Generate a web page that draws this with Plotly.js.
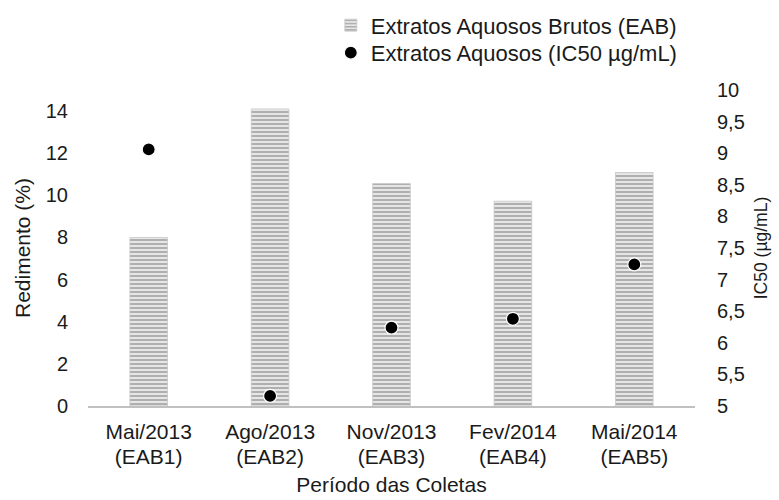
<!DOCTYPE html>
<html>
<head>
<meta charset="utf-8">
<script src="https://cdn.plot.ly/plotly-3.0.1.min.js"></script>
<style>html,body{margin:0;padding:0;background:#fff;}#chart{width:779px;height:500px;}</style>
</head>
<body>
<div id="chart"></div>
<script>
var codes = ["(EAB1)", "(EAB2)", "(EAB3)", "(EAB4)", "(EAB5)"];
var periods = ["Mai/2013", "Ago/2013", "Nov/2013", "Fev/2014", "Mai/2014"];
var rendimento = [8.0, 14.1, 10.56, 9.72, 11.08];
var ic50 = [9.06, 5.16, 6.24, 6.38, 7.24];
var leftTicks = [0, 2, 4, 6, 8, 10, 12, 14];
var rightTicks = [5, 5.5, 6, 6.5, 7, 7.5, 8, 8.5, 9, 9.5, 10];
var rightTickText = ["5", "5,5", "6", "6,5", "7", "7,5", "8", "8,5", "9", "9,5", "10"];

var fontFam = "Liberation Sans, Arial, sans-serif";
var txtColor = "#1a1a1a";

var data = [
  {
    type: "bar",
    name: "Extratos Aquosos Brutos (EAB)",
    x: codes,
    y: rendimento,
    xaxis: "x",
    yaxis: "y",
    legend: "legend",
    width: 0.31,
    marker: {
      color: "#e4e4e4",
      line: {color: "#c8c8c8", width: 0.8},
      pattern: {shape: "-", fgcolor: "#a9a9a9", bgcolor: "#e6e6e6", size: 4, solidity: 0.45}
    },
    hoverinfo: "none"
  },
  {
    type: "scatter",
    mode: "markers",
    name: "Extratos Aquosos (IC50 µg/mL)",
    x: codes,
    y: ic50,
    xaxis: "x2",
    yaxis: "y2",
    legend: "legend2",
    marker: {color: "#000000", size: 13, line: {color: "#ffffff", width: 1.2}},
    hoverinfo: "none"
  }
];

var legendCommon = {
  xanchor: "left", yanchor: "top",
  font: {family: fontFam, size: 22, color: txtColor},
  bgcolor: "rgba(0,0,0,0)",
  itemwidth: 30
};

var layout = {
  width: 779,
  height: 500,
  margin: {l: 87.5, r: 84, t: 89.5, b: 93.5, autoexpand: false},
  paper_bgcolor: "#ffffff",
  plot_bgcolor: "#ffffff",
  font: {family: fontFam, size: 21, color: txtColor},
  showlegend: true,
  legend: Object.assign({x: 0.40, y: 1.271}, legendCommon),
  legend2: Object.assign({x: 0.40, y: 1.184}, legendCommon),
  xaxis: {
    type: "category",
    categoryorder: "array",
    categoryarray: codes,
    tickvals: codes,
    ticktext: periods,
    showgrid: false,
    zeroline: false,
    showline: true,
    linecolor: "#c0c0c0",
    linewidth: 1.5,
    ticks: "",
    tickfont: {family: fontFam, size: 21, color: txtColor},
    ticklabelstandoff: 6
  },
  xaxis2: {
    type: "category",
    overlaying: "x",
    matches: "x",
    anchor: "y",
    side: "bottom",
    categoryorder: "array",
    categoryarray: codes,
    tickvals: codes,
    ticktext: codes,
    showgrid: false,
    zeroline: false,
    showline: false,
    ticks: "",
    tickfont: {family: fontFam, size: 21, color: txtColor},
    ticklabelstandoff: 36,
    title: {text: "Período das Coletas", font: {family: fontFam, size: 21, color: txtColor}, standoff: 10}
  },
  yaxis: {
    range: [0, 15],
    tickvals: leftTicks,
    ticktext: leftTicks.map(String),
    showgrid: false,
    zeroline: false,
    showline: false,
    ticks: "",
    tickfont: {family: fontFam, size: 20, color: txtColor},
    ticklabelstandoff: 19,
    title: {text: "Redimento (%)", font: {family: fontFam, size: 21, color: txtColor}, standoff: 9}
  },
  yaxis2: {
    range: [5, 10],
    overlaying: "y",
    anchor: "x2",
    side: "right",
    tickvals: rightTicks,
    ticktext: rightTickText,
    showgrid: false,
    zeroline: false,
    showline: false,
    ticks: "",
    tickfont: {family: fontFam, size: 20, color: txtColor},
    ticklabelstandoff: 21,
    title: {text: "IC50 (µg/mL)", font: {family: fontFam, size: 17.5, color: txtColor}, standoff: 10}
  }
};

Plotly.newPlot("chart", data, layout, {displayModeBar: false, staticPlot: true});
</script>
</body>
</html>
